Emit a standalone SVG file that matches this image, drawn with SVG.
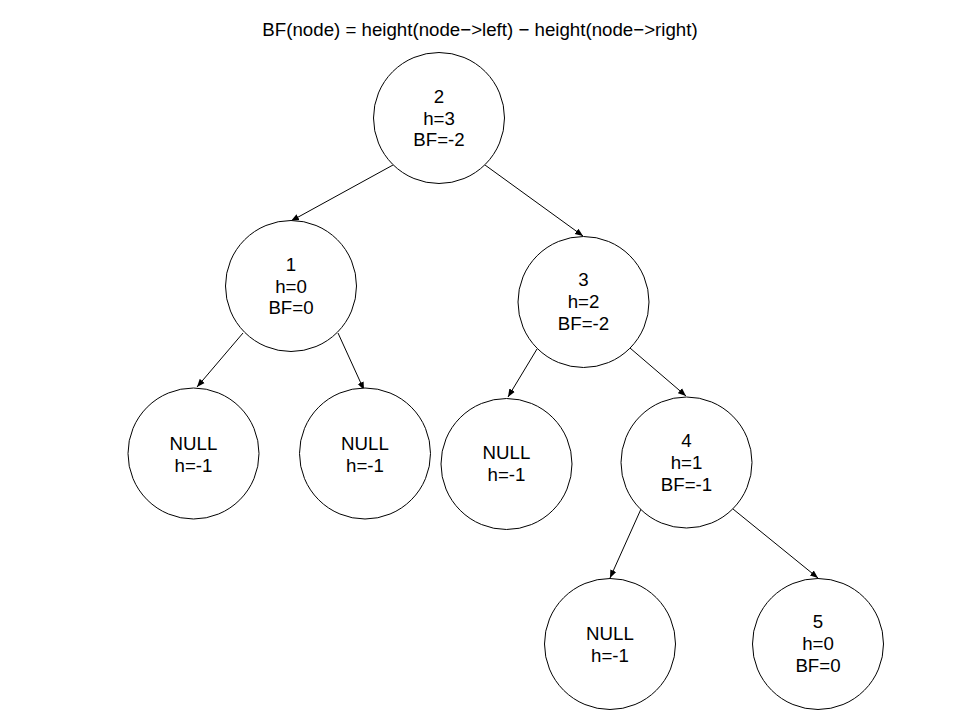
<svg xmlns="http://www.w3.org/2000/svg" width="960" height="720" viewBox="0 0 960 720">
  <style>
    text { font-family: "Liberation Sans", Arial, sans-serif; font-size: 18.7px; fill: #000; text-anchor: middle; }
    .node circle { fill: #fff; stroke: #000; stroke-width: 1; }
    .edges line { stroke: #000; stroke-width: 1; marker-end: url(#arrow); }
  </style>
  <defs>
    <marker id="arrow" viewBox="0 0 10 10" refX="10" refY="5" markerWidth="8" markerHeight="8" markerUnits="userSpaceOnUse" orient="auto">
      <path d="M0,1 L10,5 L0,9 Z" fill="#000"/>
    </marker>
  </defs>
  <rect width="960" height="720" fill="#fff"/>

  <text x="480" y="36">BF(node) = height(node−&gt;left) − height(node−&gt;right)</text>

  <g class="edges" id="edges">
    <line x1="393" y1="165" x2="291" y2="221"/>
    <line x1="485" y1="165" x2="583" y2="236"/>
    <line x1="243" y1="333" x2="197" y2="387"/>
    <line x1="338" y1="333" x2="364" y2="390"/>
    <line x1="537" y1="349" x2="508" y2="397"/>
    <line x1="630" y1="348" x2="686" y2="396"/>
    <line x1="641" y1="509" x2="610" y2="578"/>
    <line x1="733" y1="509" x2="818" y2="578"/>
  </g>

  <g class="node" id="n2">
    <circle cx="439" cy="118" r="65.5"/>
    <text x="439" y="103">2</text>
    <text x="439" y="124.5">h=3</text>
    <text x="439" y="146">BF=-2</text>
  </g>
  <g class="node" id="n1">
    <circle cx="291" cy="286" r="65.5"/>
    <text x="291" y="271">1</text>
    <text x="291" y="292.5">h=0</text>
    <text x="291" y="314">BF=0</text>
  </g>
  <g class="node" id="n3">
    <circle cx="583.5" cy="302" r="65.5"/>
    <text x="583.5" y="286">3</text>
    <text x="583.5" y="308">h=2</text>
    <text x="583.5" y="330">BF=-2</text>
  </g>
  <g class="node" id="null1l">
    <circle cx="193.5" cy="453.5" r="65.5"/>
    <text x="193.5" y="450">NULL</text>
    <text x="193.5" y="471.5">h=-1</text>
  </g>
  <g class="node" id="null1r">
    <circle cx="365" cy="453.5" r="65.5"/>
    <text x="365" y="450">NULL</text>
    <text x="365" y="471.5">h=-1</text>
  </g>
  <g class="node" id="null3l">
    <circle cx="506.5" cy="464" r="65.5"/>
    <text x="506.5" y="459">NULL</text>
    <text x="506.5" y="480.5">h=-1</text>
  </g>
  <g class="node" id="n4">
    <circle cx="686.5" cy="462.5" r="65.5"/>
    <text x="686.5" y="447">4</text>
    <text x="686.5" y="469">h=1</text>
    <text x="686.5" y="490.5">BF=-1</text>
  </g>
  <g class="node" id="null4l">
    <circle cx="610" cy="644" r="65.5"/>
    <text x="610" y="640">NULL</text>
    <text x="610" y="661.5">h=-1</text>
  </g>
  <g class="node" id="n5">
    <circle cx="818" cy="644" r="65.5"/>
    <text x="818" y="628">5</text>
    <text x="818" y="650">h=0</text>
    <text x="818" y="671.5">BF=0</text>
  </g>
</svg>
